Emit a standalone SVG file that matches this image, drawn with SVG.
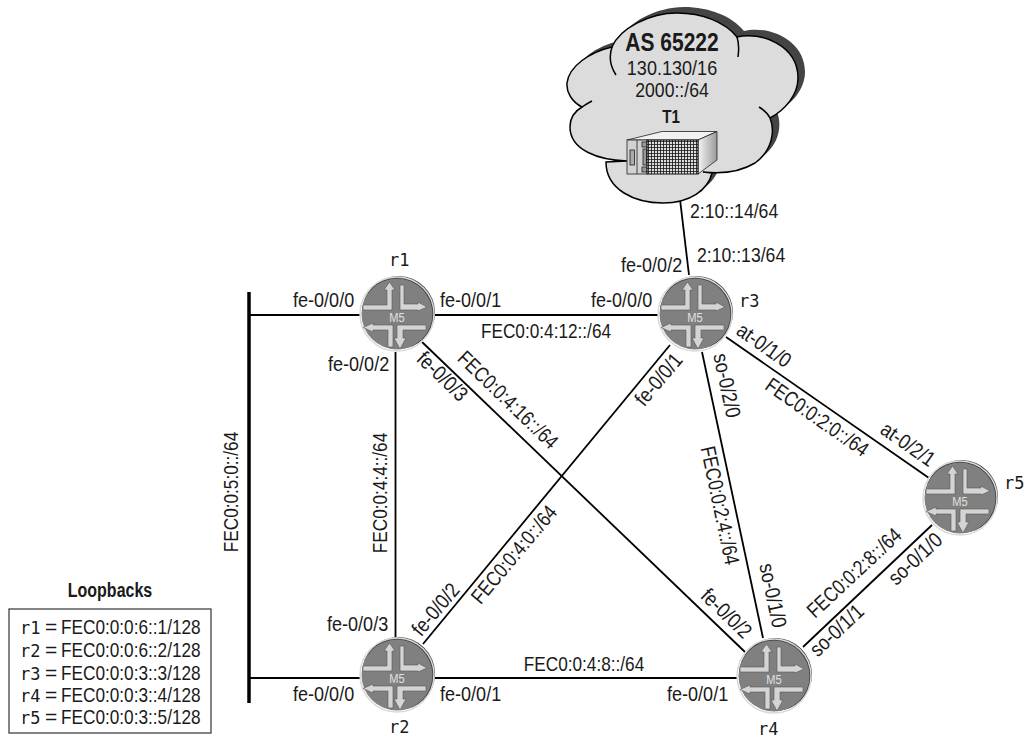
<svg xmlns="http://www.w3.org/2000/svg" width="1026" height="738" viewBox="0 0 1026 738">
<style>
text{font-family:"Liberation Sans",Arial,sans-serif;font-size:21px;fill:#1a1a1a}
.m{font-family:"DejaVu Sans Mono","Liberation Mono",monospace;font-size:17px}
.b{font-weight:bold}
.c{text-anchor:middle}
.five{font-size:13.500px;fill:#e0e0e0;text-anchor:middle}
.lnk{stroke:#000;stroke-width:1.8;fill:none}
.arr{fill:#d4d4d4;stroke:#555;stroke-width:.6}
.cl{fill:#dcdcdc;stroke:#000;stroke-width:1.5}
.in{fill:none;stroke:#000;stroke-width:1.5}
.srv{stroke:#222;stroke-width:.8}
</style>
<defs>
<g id="rt">
<circle cx="1.500" cy="-1.500" r="36.500" fill="#3f3f3f"/>
<circle r="37" fill="none" stroke="#d9d9d9" stroke-width="1.500"/>
<circle r="35.500" fill="#808080"/>
<path d="M-34-9H-10V-24H-13L-7.500-32-2-24H-5V-4H-34Z" class="arr"/>
<path d="M3-29H7V-10H21V-12L30-7 21-3V-4H3Z" class="arr"/>
<path d="M-34 13.500L-24 9V11H-4V33H-9V16H-24V18Z" class="arr"/>
<path d="M0 11H29V16H6V24H9L3 35-3 24H0Z" class="arr"/>
</g>
<pattern id="grid" width="3" height="3" patternUnits="userSpaceOnUse">
<rect width="3" height="3" fill="#ddd"/><path d="M0 0H3M0 0V3" stroke="#111" stroke-width="1.600"/>
</pattern>
<linearGradient id="side" x1="0" x2="1"><stop offset="0" stop-color="#f4f4f4"/><stop offset="1" stop-color="#999"/></linearGradient>
<path id="cloudshape" d="M627 161C598 160 570 150 570 127C570 118 575 111 582 107C572 102 566 92 567 83C569 66 590 52 612 47C620 28 650 13 677 13C702 13 725 22 737 37C760 31 798 45 798 78C798 95 785 110 770 118C775 130 773 150 755 163C740 172 720 174 703 172L712 173C708 190 690 203 663 203C635 203 606 190 606 162Z"/>
</defs>

<g id="connectors" class="lnk">
<line x1="249" y1="292" x2="249" y2="703" stroke-width="3.500"/>
<line x1="249" y1="315" x2="360" y2="315"/>
<line x1="249" y1="678" x2="360" y2="678"/>
<line x1="435" y1="315" x2="658" y2="315"/>
<line x1="395.500" y1="352" x2="395.500" y2="637"/>
<line x1="422" y1="342" x2="745" y2="652"/>
<line x1="423" y1="644" x2="670" y2="345"/>
<line x1="435" y1="678" x2="737" y2="678"/>
<line x1="702" y1="352" x2="763" y2="638"/>
<line x1="726" y1="337" x2="929" y2="478"/>
<line x1="803" y1="647" x2="932" y2="525"/>
<line x1="677" y1="174" x2="689" y2="275"/>
</g>

<g id="T1">
<use href="#cloudshape" transform="translate(7,-6)" fill="#444"/>
<use href="#cloudshape" class="cl"/>
<path d="M616 75C610 66 609 56 612 47M592 101C588 103 585 105 582 107M737 37C739 43 739 50 738 57M759 107C764 110 768 114 770 118" class="in"/>
<path d="M627 140L662 131.500H717L698 140Z" fill="#f2f2f2" class="srv"/>
<path d="M698 140L717 131.500V160L698 174Z" fill="url(#side)" class="srv"/>
<rect x="627" y="140" width="20" height="34" fill="#d2d2d2" class="srv"/>
<line x1="637" y1="140" x2="637" y2="174" class="srv"/>
<rect x="630" y="150" width="4.500" height="15" fill="#aaa" class="srv"/>
<rect x="642" y="142" width="5" height="5" fill="#999" class="srv"/>
<rect x="642" y="167" width="5" height="5" fill="#999" class="srv"/>
<rect x="643" y="149" width="3.500" height="16" fill="#999" class="srv"/>
<rect x="647" y="140" width="51" height="34" fill="url(#grid)" stroke="#111"/>
<text class="b c" transform="translate(672,51) scale(.84,1)" style="font-size:25px">AS 65222</text>
<text class="c" transform="translate(672,75) scale(.86,1)" style="font-size:21px">130.130/16</text>
<text class="c" transform="translate(672,97) scale(.84,1)" style="font-size:21px">2000::/64</text>
<text class="b c" transform="translate(671,123) scale(.82,1)" style="font-size:18.500px">T1</text>
</g>

<g id="r1"><use href="#rt" x="397" y="314"/><text class="five" transform="translate(397,322) scale(.82,1)">M5</text><text class="m" x="389" y="266">r1</text></g>
<g id="r2"><use href="#rt" x="397" y="675"/><text class="five" transform="translate(397,683) scale(.82,1)">M5</text><text class="m" x="389" y="733">r2</text></g>
<g id="r3"><use href="#rt" x="695" y="314"/><text class="five" transform="translate(695,322) scale(.82,1)">M5</text><text class="m" x="739" y="307">r3</text></g>
<g id="r4"><use href="#rt" x="774" y="676"/><text class="five" transform="translate(774,684) scale(.82,1)">M5</text><text class="m" x="758" y="735">r4</text></g>
<g id="r5"><use href="#rt" x="960" y="498"/><text class="five" transform="translate(960,506) scale(.82,1)">M5</text><text class="m" x="1004" y="489">r5</text></g>

<g id="labels">
<text transform="translate(690,218) scale(.84,1)">2:10::14/64</text>
<text transform="translate(697,262) scale(.84,1)">2:10::13/64</text>
<text transform="translate(621,272) scale(.86,1)">fe-0/0/2</text>
<text transform="translate(293,307) scale(.86,1)">fe-0/0/0</text>
<text transform="translate(440,307) scale(.86,1)">fe-0/0/1</text>
<text transform="translate(591,307) scale(.86,1)">fe-0/0/0</text>
<text class="c" transform="translate(546,338) scale(.82,1)">FEC0:0:4:12::/64</text>
<text transform="translate(328,371) scale(.86,1)">fe-0/0/2</text>
<text class="c" transform="translate(437.500,381.500) rotate(44) scale(.86,1)">fe-0/0/3</text>
<text class="c" transform="translate(503,405) rotate(44) scale(.82,1)">FEC0:0:4:16::/64</text>
<text class="c" transform="translate(387,493) rotate(-90) scale(.82,1)">FEC0:0:4:4::/64</text>
<text class="c" transform="translate(238,492) rotate(-90) scale(.82,1)">FEC0:0:5:0::/64</text>
<text transform="translate(327,631) scale(.86,1)">fe-0/0/3</text>
<text transform="translate(293,701) scale(.86,1)">fe-0/0/0</text>
<text transform="translate(440,701) scale(.86,1)">fe-0/0/1</text>
<text class="c" transform="translate(441,614) rotate(-50) scale(.86,1)">fe-0/0/2</text>
<text class="c" transform="translate(519.500,559) rotate(-50) scale(.82,1)">FEC0:0:4:0::/64</text>
<text class="c" transform="translate(664,384) rotate(-50) scale(.86,1)">fe-0/0/1</text>
<text class="c" transform="translate(584,671) scale(.82,1)">FEC0:0:4:8::/64</text>
<text transform="translate(667,701) scale(.86,1)">fe-0/0/1</text>
<text class="c" transform="translate(721.500,618.500) rotate(44) scale(.86,1)">fe-0/0/2</text>
<text class="c" transform="translate(720,387) rotate(78) scale(.86,1)">so-0/2/0</text>
<text class="c" transform="translate(713,507) rotate(78) scale(.82,1)">FEC0:0:2:4::/64</text>
<text class="c" transform="translate(766,597) rotate(78) scale(.86,1)">so-0/1/0</text>
<text class="c" transform="translate(760,351) rotate(35) scale(.86,1)">at-0/1/0</text>
<text class="c" transform="translate(813,423) rotate(35) scale(.82,1)">FEC0:0:2:0::/64</text>
<text class="c" transform="translate(904,450) rotate(35) scale(.86,1)">at-0/2/1</text>
<text class="c" transform="translate(859,578) rotate(-43) scale(.82,1)">FEC0:0:2:8::/64</text>
<text class="c" transform="translate(920,564) rotate(-43) scale(.86,1)">so-0/1/0</text>
<text class="c" transform="translate(841.500,635.500) rotate(-43) scale(.86,1)">so-0/1/1</text>
</g>

<g id="loopbacks">
<text class="b c" transform="translate(110,597) scale(.82,1)" style="font-size:19.500px">Loopbacks</text>
<rect x="9" y="609" width="202" height="124" fill="#fff" stroke="#333" stroke-width="1.200"/>
<text class="m" x="20" y="634">r1</text><text x="45" y="634">=</text><text transform="translate(61,634) scale(.82,1)">FEC0:0:0:6::1/128</text>
<text class="m" x="20" y="657">r2</text><text x="45" y="657">=</text><text transform="translate(61,657) scale(.82,1)">FEC0:0:0:6::2/128</text>
<text class="m" x="20" y="680">r3</text><text x="45" y="680">=</text><text transform="translate(61,680) scale(.82,1)">FEC0:0:0:3::3/128</text>
<text class="m" x="20" y="702">r4</text><text x="45" y="702">=</text><text transform="translate(61,702) scale(.82,1)">FEC0:0:0:3::4/128</text>
<text class="m" x="20" y="724">r5</text><text x="45" y="724">=</text><text transform="translate(61,724) scale(.82,1)">FEC0:0:0:3::5/128</text>
</g>
</svg>
